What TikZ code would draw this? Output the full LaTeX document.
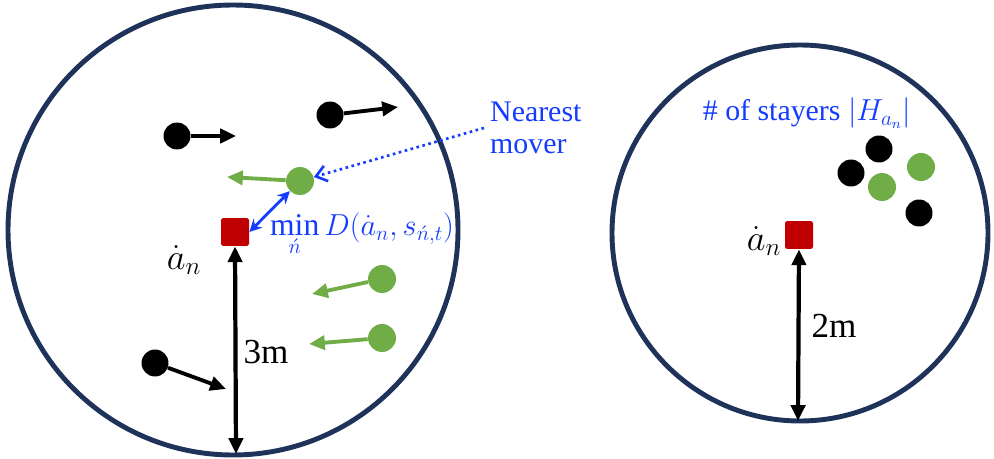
\documentclass[tikz,border=0pt]{standalone}
\usepackage{fontspec}
\setmainfont{Liberation Serif}
\usetikzlibrary{arrows.meta}

\definecolor{ringblue}{RGB}{31,50,90}
\definecolor{moverg}{RGB}{112,173,71}
\definecolor{agentred}{RGB}{192,0,0}
\definecolor{textblue}{RGB}{20,60,255}

\tikzset{
  ring/.style={draw=ringblue, line width=2.8pt},
  stayer/.style={circle, fill=black, minimum size=0.54cm, inner sep=0pt},
  mover/.style={circle, fill=moverg, minimum size=0.56cm, inner sep=0pt},
  agent/.style={rectangle, rounded corners=1pt, fill=agentred, minimum size=0.56cm, inner sep=0pt},
  walk/.style={line width=2.2pt, -{Triangle[length=9pt,width=8pt]}},
  span/.style={line width=2.4pt, {Triangle[length=9pt,width=8pt]}-{Triangle[length=9pt,width=8pt]}},
}

\begin{document}
\begin{tikzpicture}[x=0.02cm, y=-0.02cm]
    \useasboundingbox (0,0) rectangle (994,459);

    % Left area (3m)
    \draw[ring] (233,230) circle (225);
    \node[agent] (a1) at (235,232) {};
    \node[inner sep=1pt] (l1) at (184,260) {\fontsize{20}{22}\selectfont$\dot{a}_n$};
    \coordinate (b1) at (236,454);
    \draw[span] (a1.south) -- (b1);
    \node at (266,352) {\fontsize{20}{22}\selectfont 3m};

    % stayers walking away
    \node[stayer] (s1) at (177,136) {};
    \coordinate (s1e) at (236,136);
    \draw[walk] (s1) -- (s1e);
    \node[stayer] (s2) at (330,115) {};
    \coordinate (s2e) at (398,107);
    \draw[walk] (s2) -- (s2e);
    \node[stayer] (s3) at (155,363) {};
    \coordinate (s3e) at (226,389);
    \draw[walk] (s3) -- (s3e);

    % movers
    \node[mover] (g1) at (300,181) {};
    \coordinate (g1e) at (227,177);
    \draw[walk, moverg] (g1) -- (g1e);
    \node[mover] (g2) at (382,279) {};
    \coordinate (g2e) at (312,294);
    \draw[walk, moverg] (g2) -- (g2e);
    \node[mover] (g3) at (382,338) {};
    \coordinate (g3e) at (309,344);
    \draw[walk, moverg] (g3) -- (g3e);

    % nearest mover
    \draw[textblue, line width=1.6pt, {Stealth[length=7pt,width=7pt]}-{Stealth[length=7pt,width=7pt]}] (a1.east) -- (g1.225);
    \node[textblue, anchor=west, inner sep=1pt] (dist) at (268,234)
      {\fontsize{18}{20}\selectfont$\displaystyle\min_{\acute{n}} D\big(\dot{a}_n, s_{\acute{n},t}\big)$};
    \node[textblue, anchor=west, align=left, font=\fontsize{17}{18}\selectfont] (nm) at (484,128) {Nearest\\mover};
    \draw[textblue, line width=1.5pt, dotted, -{Straight Barb[length=6pt,width=9pt]}] (nm.west) -- (g1);

    % Right area (2m)
    \draw[ring] (800,233) circle (188);
    \node[textblue] (hdr) at (807,113) {\fontsize{17}{19}\selectfont \# of stayers $\big|H_{a_n}\big|$};
    \node[stayer] (h1) at (879,149) {};
    \node[stayer] (h2) at (851,173) {};
    \node[stayer] (h3) at (919,213) {};
    \node[mover] (h4) at (921,167) {};
    \node[mover] (h5) at (882,187) {};
    \node[agent] (a2) at (799,235) {};
    \node[inner sep=1pt] (l2) at (764,241) {\fontsize{20}{22}\selectfont$\dot{a}_n$};
    \coordinate (b2) at (798,421);
    \draw[span] (a2.south) -- (b2);
    \node at (834,326) {\fontsize{20}{22}\selectfont 2m};
\end{tikzpicture}
\end{document}
